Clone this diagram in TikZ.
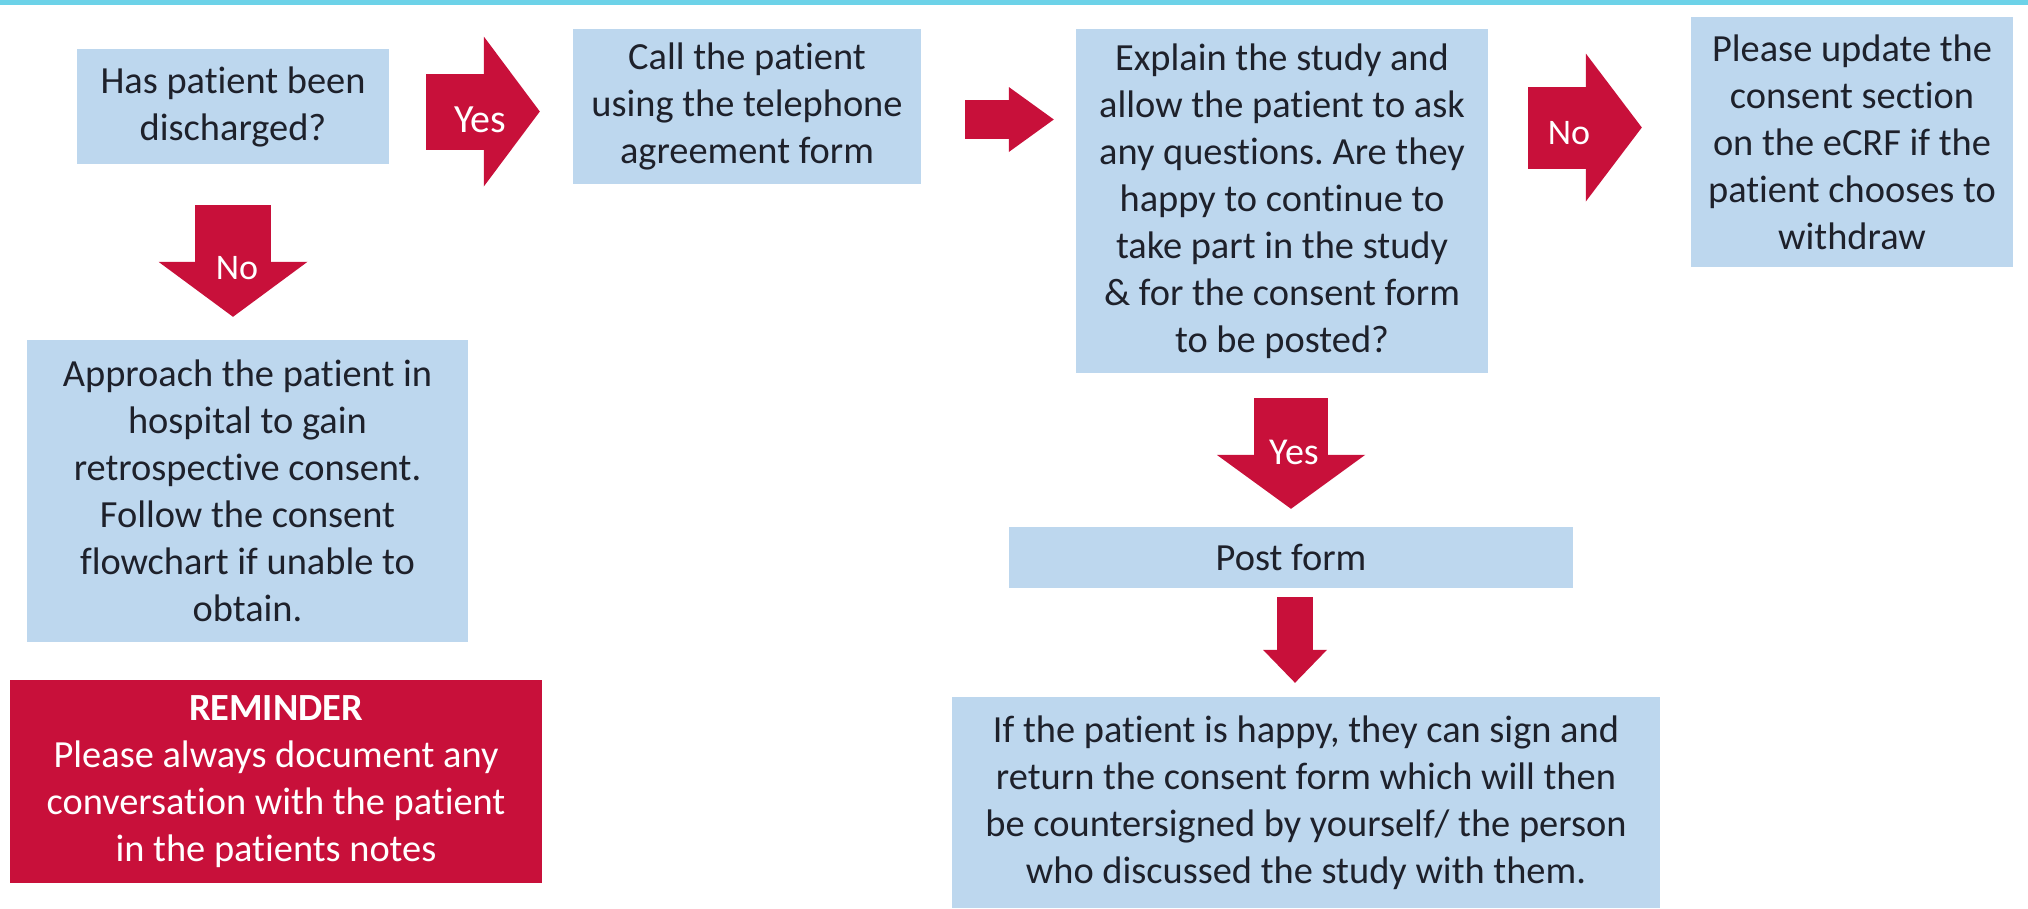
\documentclass[tikz,border=0pt]{standalone}
\usepackage{fontspec}
\setmainfont{Carlito}[Ligatures={NoCommon}]
\frenchspacing
\usetikzlibrary{arrows.meta,calc}
\definecolor{boxblue}{RGB}{189,215,238}
\definecolor{arrred}{RGB}{200,16,58}
\definecolor{band}{RGB}{108,210,232}
\definecolor{txt}{RGB}{30,33,43}
\begin{document}
\begin{tikzpicture}[x=1pt,y=-1pt,
  box/.style={fill=boxblue, inner sep=0pt, align=center, text=txt, font=\fontsize{38.4}{47}\selectfont},
  remind/.style={fill=arrred, inner sep=0pt, align=center, text=white, font=\fontsize{38.4}{47}\selectfont},
  lbl/.style={text=white, inner sep=0pt, font=\fontsize{#1}{#1}\selectfont},
  blockarrow/.style n args={3}{draw=arrred, line width=#1, -{Triangle[length=#3, width=#2, line width=0pt]}},
]
\useasboundingbox (0,0) rectangle (2028,908);
\fill[band] (0,0) rectangle (2028,4.5);

\node[box, minimum width=312pt, minimum height=115pt] (b1) at (233,106.5) {Has patient been\\discharged?};
\node[box, minimum width=348pt, minimum height=155pt] (b2) at (747,106.5) {Call the patient\\using the telephone\\agreement form};
\node[box, minimum width=412pt, minimum height=344pt] (b3) at (1282,201) {Explain the study and\\allow the patient to ask\\any questions. Are they\\happy to continue to\\take part in the study\\\& for the consent form\\to be posted?};
\node[box, minimum width=322pt, minimum height=250pt] (b4) at (1852,142) {Please update the\\consent section\\on the eCRF if the\\patient chooses to\\withdraw};
\node[box, minimum width=441pt, minimum height=302pt] (app) at (247.5,491) {Approach the patient in\\hospital to gain\\retrospective consent.\\Follow the consent\\flowchart if unable to\\obtain.};
\node[remind, minimum width=532pt, minimum height=203pt] (rem) at (276,781.5) {\textbf{REMINDER}\\Please always document any\\conversation with the patient\\in the patients notes};
\node[box, minimum width=564pt, minimum height=61pt] (post) at (1291,557.5) {Post form};
\node[box, minimum width=708pt, minimum height=211pt] (fin) at (1306,802.5) {If the patient is happy, they can sign and\\return the consent form which will then\\be countersigned by yourself/ the person\\who discussed the study with them.};

% Yes (right)
\draw[blockarrow={76pt}{150pt}{56pt}, shorten <=37pt, shorten >=33pt]
  ($(b1.east)+(0,5)$) -- node[lbl=40, pos=0.495, yshift=-8.5pt] (l1) {Yes} ($(b2.west)+(0,5)$);
% plain arrow
\draw[blockarrow={39pt}{65pt}{45pt}, shorten <=44pt, shorten >=22pt]
  ($(b2.east)+(0,13)$) -- ($(b3.west |- b2.east)+(0,13)$);
% No (right)
\draw[blockarrow={82pt}{148pt}{56pt}, shorten <=40pt, shorten >=49pt]
  ($(b3.east |- b4.west)+(0,-14.5)$) -- node[lbl=36, pos=0.399, yshift=-6pt] (l3) {No} ($(b4.west)+(0,-14.5)$);
% No (down)
\draw[blockarrow={76pt}{149pt}{55pt}, shorten <=41pt, shorten >=23pt]
  (b1.south) -- node[lbl=36, pos=0.59, xshift=4pt] (l4) {No} (b1.south |- app.north);
% Yes (down)
\draw[blockarrow={73.6pt}{148.5pt}{54pt}, shorten <=25pt, shorten >=18pt]
  (b3.south -| post.north) -- node[lbl=38, pos=0.513, xshift=3pt] (l5) {Yes} (post.north);
% plain down arrow
\draw[blockarrow={35.5pt}{64pt}{33pt}, shorten <=9pt, shorten >=14pt]
  ($(post.south)+(4,0)$) -- ($(post.south |- fin.north)+(4,0)$);
\end{tikzpicture}
\end{document}
